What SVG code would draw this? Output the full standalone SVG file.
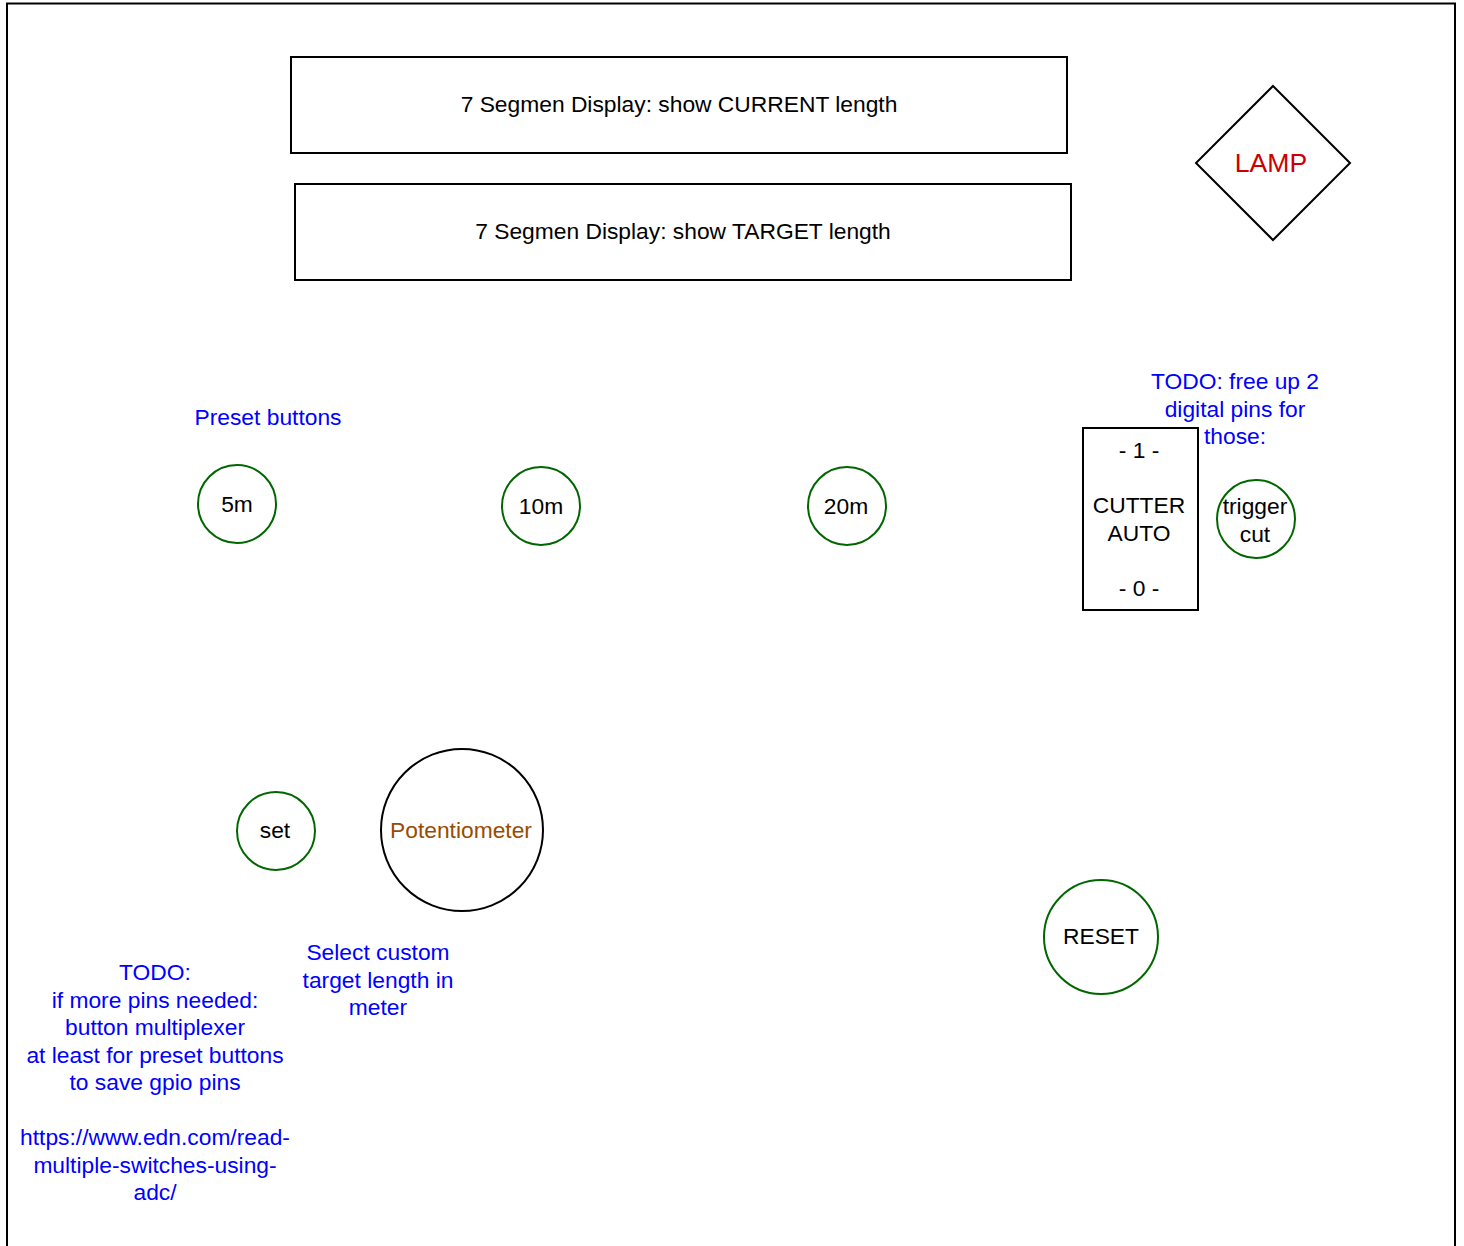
<svg xmlns="http://www.w3.org/2000/svg" width="1464" height="1246" viewBox="0 0 1464 1246">
<style>
.box{fill:#fff;stroke:#000;stroke-width:2}
.btn{fill:#fff;stroke:#006600;stroke-width:2}
text{font-family:"Liberation Sans",Arial,sans-serif;font-size:22.8px;text-anchor:middle;fill:#000}
.blue{fill:#0000FF}
</style>
<rect x="7" y="3.5" width="1448" height="1252" fill="#fff" stroke="#000" stroke-width="2"/>
<g id="display-current"><rect class="box" x="291" y="57" width="776" height="96"/><text x="679" y="112">7 Segmen Display: show CURRENT length</text></g>
<g id="display-target"><rect class="box" x="295" y="184" width="776" height="96"/><text x="683" y="239">7 Segmen Display: show TARGET length</text></g>
<g id="lamp"><polygon class="box" points="1273,86 1350,163 1273,240 1196,163"/><text x="1271" y="171.5" style="font-size:26.6px;fill:#CC0000">LAMP</text></g>
<g id="preset-label"><text class="blue" x="268" y="425">Preset buttons</text></g>
<g id="btn-5m"><circle class="btn" cx="237" cy="504" r="39"/><text x="237" y="512">5m</text></g>
<g id="btn-10m"><circle class="btn" cx="541" cy="506" r="39"/><text x="541" y="514">10m</text></g>
<g id="btn-20m"><circle class="btn" cx="847" cy="506" r="39"/><text x="846" y="514">20m</text></g>
<g id="todo-free"><text class="blue" x="1235" y="389">TODO: free up 2</text><text class="blue" x="1235" y="416.5">digital pins for</text><text class="blue" x="1235" y="444">those:</text></g>
<g id="cutter"><rect class="box" x="1083" y="428" width="115" height="182"/><text x="1139" y="458">- 1 -</text><text x="1139" y="513">CUTTER</text><text x="1139" y="541">AUTO</text><text x="1139" y="596">- 0 -</text></g>
<g id="trigger-cut"><circle class="btn" cx="1256" cy="519" r="39"/><text x="1255" y="514">trigger</text><text x="1255" y="542">cut</text></g>
<g id="set"><circle class="btn" cx="276" cy="831" r="39"/><text x="275" y="838">set</text></g>
<g id="potentiometer"><circle class="box" cx="462" cy="830" r="81"/><text x="461" y="838" style="fill:#994C00">Potentiometer</text></g>
<g id="select-label"><text class="blue" x="378" y="960">Select custom</text><text class="blue" x="378" y="987.5">target length in</text><text class="blue" x="378" y="1015">meter</text></g>
<g id="todo-mux"><text class="blue" x="155" y="980">TODO:</text><text class="blue" x="155" y="1007.5">if more pins needed:</text><text class="blue" x="155" y="1035">button multiplexer</text><text class="blue" x="155" y="1062.5">at least for preset buttons</text><text class="blue" x="155" y="1090">to save gpio pins</text><text class="blue" x="155" y="1145">https://www.edn.com/read-</text><text class="blue" x="155" y="1172.5">multiple-switches-using-</text><text class="blue" x="155" y="1200">adc/</text></g>
<g id="reset"><circle class="btn" cx="1101" cy="937" r="57"/><text x="1101" y="944">RESET</text></g>
<g id="connectors"></g>
</svg>
